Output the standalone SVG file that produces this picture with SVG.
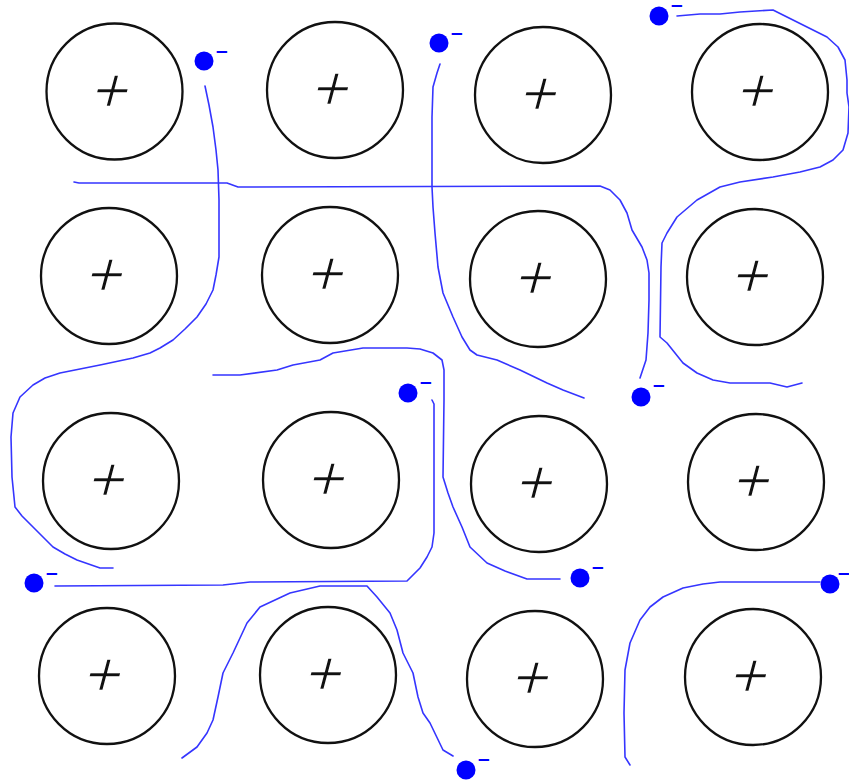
<svg xmlns="http://www.w3.org/2000/svg" width="849" height="780" viewBox="0 0 849 780">
<style>
.ion{fill:none;stroke:#111;stroke-width:2.3}
.pl{font-family:"Liberation Sans",Arial,sans-serif;font-size:64px;fill:#111;stroke:#fff;stroke-width:1.4;paint-order:normal;text-anchor:middle}
.e{fill:#0000ff}
.m{font-family:"Liberation Sans",Arial,sans-serif;font-weight:bold;font-size:21px;fill:#0000ff}
.tr{fill:none;stroke:#3535ff;stroke-width:1.6;stroke-linejoin:round;stroke-linecap:round}
</style>
<rect width="849" height="780" fill="#fff"/>
<g id="paths" class="tr">
<path d="M205,86 L209,105 L213,127 L216,150 L218,170 L219,200 L219,257 L216,275 L213,290 L206,304 L197,317 L185,329 L173,340 L160,348 L150,353 L133,358 L100,365 L75,370 L60,373 L45,378 L33,385 L20,397 L13,413 L11,437 L12,477 L15,507 L22,516 L33,527 L53,547 L65,554 L77,560 L100,568 L113,568"/>
<path d="M74,182 L79,183 L227,183 L238,187 L600,186 L610,190 L620,200 L627,213 L632,230 L642,247 L647,260 L649,273 L649,300 L648,333 L646,360 L640,378"/>
<path d="M440,64 L437,73 L433,87 L432,117 L432,187 L433,207 L435,233 L438,267 L443,293 L453,317 L462,337 L470,350 L477,355 L497,360 L520,370 L547,383 L563,390 L584,398"/>
<path d="M677,16 L700,14 L720,14 L740,12 L773,10 L783,15 L807,27 L827,37 L838,47 L845,60 L847,80 L847,93 L849,107 L848,133 L843,150 L833,160 L820,167 L800,172 L773,177 L740,182 L720,187 L697,200 L677,217 L667,233 L662,243 L661,267 L660,337 L667,343 L683,363 L697,373 L713,380 L730,383 L770,383 L787,387 L802,383"/>
<path d="M213,375 L240,375 L277,370 L293,365 L320,360 L333,353 L363,348 L407,348 L420,349 L433,353 L442,360 L444,370 L444,400 L443,477 L448,493 L453,507 L462,527 L470,547 L487,563 L505,571 L527,579 L560,579"/>
<path d="M432,400 L434,404 L434,533 L432,547 L427,557 L420,568 L407,581 L250,582 L223,585 L55,586"/>
<path d="M182,758 L197,747 L207,733 L213,720 L218,697 L223,673 L233,653 L247,623 L260,607 L290,593 L320,586 L367,586 L377,597 L390,613 L397,630 L403,653 L413,673 L418,697 L423,713 L430,723 L443,750 L453,756"/>
<path d="M820,582 L720,582 L703,584 L683,588 L663,597 L650,607 L640,620 L630,643 L625,670 L624,713 L625,757 L630,765"/>
</g>
<g id="ion-1-1"><circle class="ion" cx="114.5" cy="91.5" r="68"/><text class="pl" transform="translate(113.5,89.5) skewX(-15)" x="-1" y="22">+</text></g>
<g id="ion-1-2"><circle class="ion" cx="335" cy="90" r="68"/><text class="pl" transform="translate(334,88) skewX(-15)" x="-1" y="22">+</text></g>
<g id="ion-1-3"><circle class="ion" cx="543" cy="95" r="68"/><text class="pl" transform="translate(542,93) skewX(-15)" x="-1" y="22">+</text></g>
<g id="ion-1-4"><circle class="ion" cx="760" cy="92" r="68"/><text class="pl" transform="translate(759,90) skewX(-15)" x="-1" y="22">+</text></g>
<g id="ion-2-1"><circle class="ion" cx="109" cy="276" r="68"/><text class="pl" transform="translate(108,274) skewX(-15)" x="-1" y="22">+</text></g>
<g id="ion-2-2"><circle class="ion" cx="330" cy="275" r="68"/><text class="pl" transform="translate(329,273) skewX(-15)" x="-1" y="22">+</text></g>
<g id="ion-2-3"><circle class="ion" cx="538" cy="279" r="68"/><text class="pl" transform="translate(537,277) skewX(-15)" x="-1" y="22">+</text></g>
<g id="ion-2-4"><circle class="ion" cx="755" cy="277" r="68"/><text class="pl" transform="translate(754,275) skewX(-15)" x="-1" y="22">+</text></g>
<g id="ion-3-1"><circle class="ion" cx="111" cy="481" r="68"/><text class="pl" transform="translate(110,479) skewX(-15)" x="-1" y="22">+</text></g>
<g id="ion-3-2"><circle class="ion" cx="331" cy="480" r="68"/><text class="pl" transform="translate(330,478) skewX(-15)" x="-1" y="22">+</text></g>
<g id="ion-3-3"><circle class="ion" cx="539" cy="484" r="68"/><text class="pl" transform="translate(538,482) skewX(-15)" x="-1" y="22">+</text></g>
<g id="ion-3-4"><circle class="ion" cx="756" cy="482" r="68"/><text class="pl" transform="translate(755,480) skewX(-15)" x="-1" y="22">+</text></g>
<g id="ion-4-1"><circle class="ion" cx="107" cy="676" r="68"/><text class="pl" transform="translate(106,674) skewX(-15)" x="-1" y="22">+</text></g>
<g id="ion-4-2"><circle class="ion" cx="328" cy="675" r="68"/><text class="pl" transform="translate(327,673) skewX(-15)" x="-1" y="22">+</text></g>
<g id="ion-4-3"><circle class="ion" cx="535" cy="679" r="68"/><text class="pl" transform="translate(534,677) skewX(-15)" x="-1" y="22">+</text></g>
<g id="ion-4-4"><circle class="ion" cx="753" cy="677" r="68"/><text class="pl" transform="translate(752,675) skewX(-15)" x="-1" y="22">+</text></g>
<g id="electron-1"><circle class="e" cx="204" cy="61" r="9.5"/><text class="m" x="216" y="57">–</text></g>
<g id="electron-2"><circle class="e" cx="439" cy="43" r="9.5"/><text class="m" x="451" y="39">–</text></g>
<g id="electron-3"><circle class="e" cx="659" cy="16" r="9.5"/><text class="m" x="671" y="11" font-size="18">–</text></g>
<g id="electron-4"><circle class="e" cx="641" cy="397" r="9.5"/><text class="m" x="653" y="391">–</text></g>
<g id="electron-5"><circle class="e" cx="408" cy="393" r="9.5"/><text class="m" x="420" y="388">–</text></g>
<g id="electron-6"><circle class="e" cx="34" cy="583" r="9.5"/><text class="m" x="46" y="579">–</text></g>
<g id="electron-7"><circle class="e" cx="580" cy="578" r="9.5"/><text class="m" x="592" y="573">–</text></g>
<g id="electron-8"><circle class="e" cx="830" cy="584" r="9.5"/><text class="m" x="838" y="579" font-size="20">–</text></g>
<g id="electron-9"><circle class="e" cx="466" cy="770" r="9.5"/><text class="m" x="478" y="765">–</text></g>
</svg>
